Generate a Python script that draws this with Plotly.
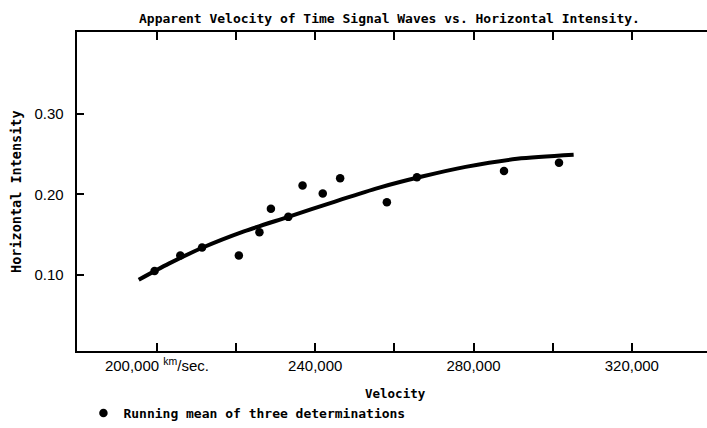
import plotly.graph_objects as go

# Data
velocity = [199400, 205900, 211400, 220700, 225900, 228800, 233200, 236800,
            241900, 246300, 258100, 265700, 287700, 301600]
intensity = [0.105, 0.124, 0.134, 0.124, 0.153, 0.182, 0.172, 0.211,
             0.201, 0.220, 0.190, 0.221, 0.229, 0.239]

curve_velocity = [195400, 203000, 211600, 222000, 233200, 245000, 256000,
                  267000, 278000, 291000, 305300]
curve_intensity = [0.094, 0.114, 0.134, 0.154, 0.172, 0.191, 0.208,
                   0.222, 0.234, 0.244, 0.249]

x_tickvals = [200000, 240000, 280000, 320000]
x_ticktext = ["200,000 <sup>km</sup>/sec.", "240,000", "280,000", "320,000"]
x_minorvals = [220000, 260000, 300000]
y_tickvals = [0.10, 0.20, 0.30]
y_ticktext = ["0.10\u00a0\u00a0", "0.20\u00a0\u00a0", "0.30\u00a0\u00a0"]

MONO = "DejaVu Sans Mono"
SANS = "Liberation Sans, Arial, sans-serif"

W, H = 707, 428
ML, MR, MT, MB = 77, 0, 32, 77

fig = go.Figure()
fig.add_trace(go.Scatter(
    x=curve_velocity, y=curve_intensity, mode="lines",
    line=dict(color="black", width=4, shape="spline", smoothing=0.8),
    showlegend=False, hoverinfo="skip"))
fig.add_trace(go.Scatter(
    x=velocity, y=intensity, mode="markers",
    marker=dict(color="black", size=8.5),
    name="<b>Running mean of three determinations</b>", showlegend=True))

fig.update_layout(
    template="none",
    width=W, height=H,
    margin=dict(l=ML, r=MR, t=MT, b=MB, pad=0, autoexpand=False),
    paper_bgcolor="white", plot_bgcolor="white",
    font=dict(family=MONO, color="black", size=13),
    legend=dict(xref="container", yref="container", x=0.118, y=0.035,
                xanchor="left", yanchor="middle", bgcolor="rgba(0,0,0,0)",
                font=dict(family=MONO, size=13, color="black"),
                itemwidth=30, borderwidth=0),
    xaxis=dict(range=[179800, 339000], tickmode="array",
               tickvals=x_tickvals, ticktext=x_ticktext, showticklabels=True,
               tickangle=0, automargin=False,
               showline=True, linecolor="black", linewidth=2, mirror="ticks",
               ticks="inside", ticklen=8, tickwidth=2, tickcolor="black",
               minor=dict(tickmode="array", tickvals=x_minorvals, ticks="inside",
                          ticklen=8, tickwidth=2, tickcolor="black", showgrid=False),
               showgrid=False, zeroline=False,
               tickfont=dict(family=SANS, size=15, color="black")),
    yaxis=dict(range=[0.0057, 0.4012], tickmode="array",
               tickvals=y_tickvals, ticktext=y_ticktext, showticklabels=True,
               automargin=False,
               showline=True, linecolor="black", linewidth=2,
               ticks="inside", ticklen=7, tickwidth=2, tickcolor="black",
               showgrid=False, zeroline=False,
               tickfont=dict(family=SANS, size=15, color="black")),
    annotations=[
        dict(text="<b>Apparent Velocity of Time Signal Waves vs. Horizontal Intensity.</b>",
             xref="paper", yref="paper", x=(389.5 - ML) / (W - ML - MR),
             y=1 + (MT - 19) / (H - MT - MB), xanchor="center", yanchor="middle",
             showarrow=False, font=dict(family=MONO, size=13, color="black")),
        dict(text="<b>Horizontal Intensity</b>", textangle=-90,
             xref="paper", yref="paper", x=-(ML - 16) / (W - ML - MR),
             y=(H - MB - 192) / (H - MT - MB), xanchor="center", yanchor="middle",
             showarrow=False, font=dict(family=MONO, size=13.5, color="black")),
        dict(text="<b>Velocity</b>",
             xref="paper", yref="paper", x=(395 - ML) / (W - ML - MR),
             y=-(393 - (H - MB)) / (H - MT - MB), xanchor="center", yanchor="middle",
             showarrow=False, font=dict(family=MONO, size=12.5, color="black")),
    ],
)

fig.write_html(
    "out.html",
    config={"displayModeBar": False},
    post_script="document.body.style.margin='0';"
                "document.documentElement.style.overflow='hidden';"
                "document.body.style.overflow='hidden';",
)
